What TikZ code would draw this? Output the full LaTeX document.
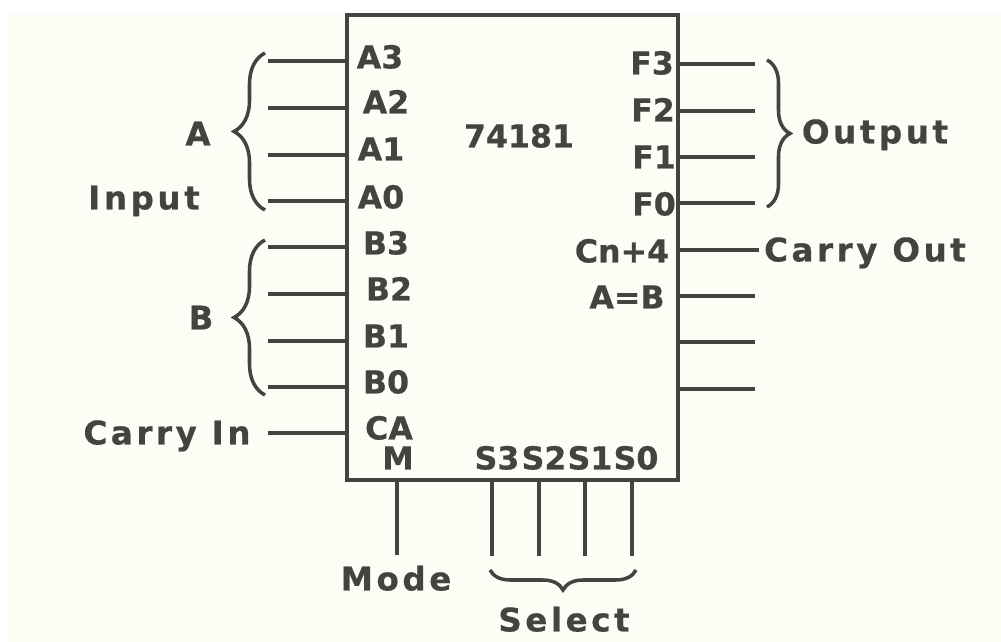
\documentclass[tikz,border=0pt]{standalone}
\usepackage{fontspec}
\setmainfont{DejaVu Sans}
\newfontfamily\pinfont{DejaVu Sans}[BoldFont={DejaVu Sans Bold},BoldFeatures={FakeBold=0.6}]
\newfontfamily\capfont{DejaVu Sans}[BoldFont={DejaVu Sans Bold},BoldFeatures={FakeBold=0.6},LetterSpace=11]
\usetikzlibrary{decorations.pathreplacing}
\definecolor{paper}{HTML}{FDFCF5}
\definecolor{ink}{HTML}{454340}
\begin{document}
\begin{tikzpicture}[x=0.02cm,y=-0.02cm]
			\tikzset{
				pn/.style={text=ink,inner sep=0,text height=13pt,text depth=0pt,font=\pinfont\bfseries\fontsize{18}{18}\selectfont},
				lb/.style={pn,font=\capfont\bfseries\fontsize{18.5}{18}\selectfont},
				w/.style={draw=ink,line width=1.8pt},
				br/.style={w,line width=2pt,decorate,decoration={brace,amplitude=#1}}}
			\useasboundingbox(0,0)rectangle(1001,642);
			\fill[paper](8,14)rectangle(1001,642);
			\node[draw=ink,line width=2pt,minimum width=6.62cm,minimum height=9.3cm,inner sep=0](U)at(512.5,247.5){};
			%%Pin names inside the chip
			\foreach \n/\t/\x/\y in {
				A3/A3/380/57,A2/A2/386/102,A1/A1/381/149,A0/A0/381/197,
				B3/B3/386/243,B2/B2/389/289,B1/B1/386/336,B0/B0/386/382,
				CA/CA/389/428,M/M/398/458,
				F3/F3/652/63,F2/F2/653/110,F1/F1/654/157,F0/F0/654/204,
				Cn/Cn+4/622/251,AB/A=B/627/297,
				S3/S3/497/458,S2/S2/544/458,S1/S1/590/458,S0/S0/636/458}
			\node[pn](n\n)at(\x,\y){\t};
			\node[pn](chip)at(519,136){74181};
			%%Outer labels
			\node[lb](lA)at(198,134){A};
			\node[lb](lInput)at(144,198){Input};
			\node[lb](lB)at(201,318){B};
			\node[lb](lCarryIn)at(167,433){Carry In};
			\node[lb](lOutput)at(875,132){Output};
			\node[lb](lCarryOut)at(865,250){Carry Out};
			\node[lb](lMode)at(396,579){Mode};
			\node[lb](lSelect)at(564,620){Select};
			%%Free ends of the pins
			\foreach \n/\x/\y in {
				a3/268/61,a2/268/108,a1/268/155,a0/268/201,
				b3/268/247,b2/268/294,b1/268/341,b0/268/387,
				f3/755/64,f2/755/111,f1/755/157,f0/755/203,
				ab/755/296,r1/755/342,r0/755/389,
				m/397/555,s3/492/556,s2/539/556,s1/585/556,s0/632/556}
			\coordinate(\n)at(\x,\y);
			\foreach \x in {a3,a2,a1,a0,b3,b2,b1,b0}
			\draw[w](\x)--(\x-|U.west);
			\foreach \x in {f3,f2,f1,f0,ab,r1,r0}
			\draw[w](\x)--(\x-|U.east);
			\foreach \x in {m,s3,s2,s1,s0}
			\draw[w](\x)--(\x|-U.south);
			\draw[w](lCarryIn.east)++(17,0)coordinate(ci)--(ci-|U.west);
			\draw[w](lCarryOut.west)++(-5,0)coordinate(co)--(co-|U.east);
			%%Braces
			\coordinate(bA0)at(265,210);\coordinate(bA1)at(265,53);
			\coordinate(bB0)at(265,395);\coordinate(bB1)at(265,240);
			\coordinate(bF0)at(767,60);\coordinate(bF1)at(767,207);
			\coordinate(bS0)at(490,570);\coordinate(bS1)at(636,570);
			\draw[br=0.62cm](bA0)--(bA1);
			\draw[br=0.62cm](bB0)--(bB1);
			\draw[br=0.46cm](bF0)--(bF1);
			\draw[br=0.4cm](bS1)--(bS0);
		\end{tikzpicture}
\end{document}
